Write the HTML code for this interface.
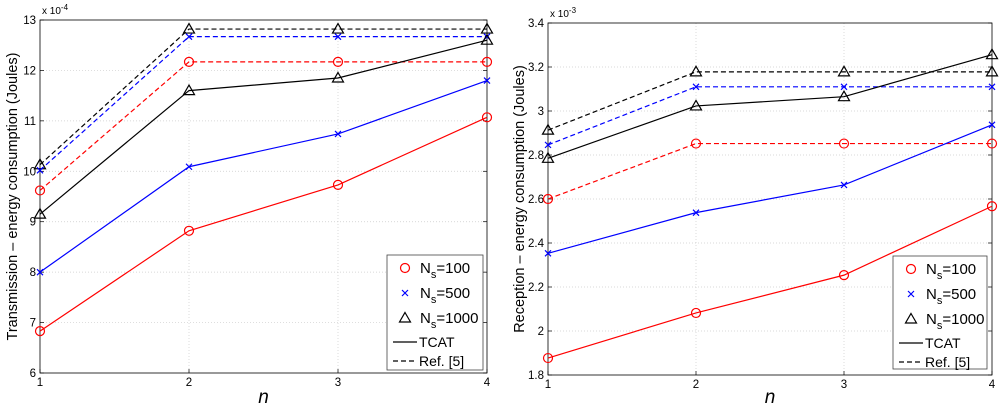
<!DOCTYPE html>
<html><head><meta charset="utf-8"><style>
body{margin:0;background:#fff}
svg{font-family:"Liberation Sans",sans-serif}
</style></head><body>
<svg id="s" width="1000" height="410" xmlns="http://www.w3.org/2000/svg"></svg>
<script>
const xCats=[1,2,3,4];
const leftTicks=[6,7,8,9,10,11,12,13];
const rightTicks=[1.8,2,2.2,2.4,2.6,2.8,3,3.2,3.4];
const rightTickLabels=["1.8","2","2.2","2.4","2.6","2.8","3","3.2","3.4"];
const leftRef100=[9.62,12.17,12.17,12.17];
const leftRef500=[10.02,12.67,12.67,12.67];
const leftRef1000=[10.13,12.82,12.82,12.82];
const leftTcat100=[6.83,8.82,9.73,11.07];
const leftTcat500=[8.0,10.09,10.74,11.8];
const leftTcat1000=[9.15,11.6,11.85,12.6];
const rightRef100=[2.6,2.852,2.852,2.852];
const rightRef500=[2.846,3.11,3.11,3.11];
const rightRef1000=[2.913,3.178,3.178,3.178];
const rightTcat100=[1.877,2.082,2.254,2.567];
const rightTcat500=[2.353,2.538,2.664,2.937];
const rightTcat1000=[2.785,3.023,3.065,3.256];

const NS="http://www.w3.org/2000/svg";
const svg=document.getElementById('s');
function mk(tag,attrs,parent){const e=document.createElementNS(NS,tag);for(const k in attrs)e.setAttribute(k,attrs[k]);(parent||svg).appendChild(e);return e;}

function marker(g,type,x,y,color){
  if(type==='o'){const e=mk('circle',{cx:x,cy:y,r:4.5,fill:'none',stroke:color,'stroke-width':1.2},g);}
  else if(type==='x'){const e=mk('path',{d:`M${x-3},${y-3}L${x+3},${y+3}M${x-3},${y+3}L${x+3},${y-3}`,stroke:color,'stroke-width':1.2},g);}
  else {const e=mk('path',{d:`M${x},${y-5.5}L${x+5.5},${y+4}L${x-5.5},${y+4}Z`,fill:'none',stroke:color,'stroke-width':1.2},g);}
}

function chart(o){
  const g=mk('g',{});
  
  
  const xs=v=>o.x0+(v-1)/(3)*(o.x1-o.x0);
  const ys=v=>o.y1-(v-o.ymin)/(o.ymax-o.ymin)*(o.y1-o.y0);
  o.ticks.forEach((t,i)=>{
    const y=ys(t);
    if(i>0&&i<o.ticks.length-1){const gl=mk('line',{x1:o.x0,x2:o.x1,y1:y,y2:y,stroke:'#ccc','stroke-width':0.7,'stroke-dasharray':'1,2'},g);}
    mk('line',{x1:o.x0,x2:o.x0+4,y1:y,y2:y,stroke:'#000','stroke-width':0.7},g);
    mk('line',{x1:o.x1,x2:o.x1-4,y1:y,y2:y,stroke:'#000','stroke-width':0.7},g);
    const tl=mk('text',{x:o.x0-4,y:y+4,'text-anchor':'end','font-size':11.5},g);tl.textContent=o.tickLabels[i];
    
  });
  xCats.forEach(c=>{
    const x=xs(c);
    if(c>1&&c<4){const gl=mk('line',{x1:x,x2:x,y1:o.y0,y2:o.y1,stroke:'#ccc','stroke-width':0.7,'stroke-dasharray':'1,2'},g);}
    mk('line',{x1:x,x2:x,y1:o.y1,y2:o.y1-4,stroke:'#000','stroke-width':0.7},g);
    const tl=mk('text',{x:x,y:o.y1+13,'text-anchor':'middle','font-size':11.5},g);tl.textContent=c;
    
  });
  const box=mk('rect',{x:o.x0,y:o.y0,width:o.x1-o.x0,height:o.y1-o.y0,fill:'none',stroke:'#000','stroke-width':0.8},g);
  
  const ex=mk('text',{x:o.x0+2,y:o.y0-6,'font-size':10},g);ex.innerHTML='x 10<tspan dy="-4" font-size="8">'+o.exp+'</tspan>';
  
  const series=[[o.ref1000,'#000','^',true],[o.ref500,'#00f','x',true],[o.ref100,'#f00','o',true],[o.t1000,'#000','^',false],[o.t500,'#00f','x',false],[o.t100,'#f00','o',false]];
  series.forEach(([d,c,m,dash])=>{
    const p=mk('polyline',{points:d.map((v,i)=>xs(xCats[i])+','+ys(v)).join(' '),fill:'none',stroke:c,'stroke-width':1.2,'stroke-dasharray':dash?'5,3':'none'},g);
    
    d.forEach((v,i)=>marker(g,m,xs(xCats[i]),ys(v),c));
  });
  const xl=mk('text',{x:(o.x0+o.x1)/2,y:403,'text-anchor':'middle','font-size':19,'font-style':'italic'},g);xl.textContent='n';
  
  const yl=mk('text',{transform:`translate(${o.ylx},${(o.y0+o.y1)/2}) rotate(-90)`,'text-anchor':'middle','font-size':14.5},g);yl.textContent=o.ylabel;
  
  const lg=mk('g',{},g);
  const L=o.leg;
  mk('rect',{x:L.x,y:L.y,width:L.w,height:L.h,fill:'#fff',stroke:'#444','stroke-width':0.8},lg);
  const items=[['o','#f00','100'],['x','#00f','500'],['^','#000','1000']];
  items.forEach((it,i)=>{
    const yy=L.y+12+i*25;
    marker(lg,it[0],L.x+18,yy+1,it[1]);
    const t=mk('text',{x:L.x+33,y:yy+6,'font-size':15},lg);t.innerHTML='N<tspan dy="5" font-size="11">s</tspan><tspan dy="-5">='+it[2]+'</tspan>';
    
  });
  [['TCAT','none'],['Ref. [5]','5,3']].forEach((it,i)=>{
    const yy=L.y+87+i*19;
    mk('line',{x1:L.x+6,x2:L.x+30,y1:yy,y2:yy,stroke:'#000','stroke-width':1.2,'stroke-dasharray':it[1]},lg);
    const t=mk('text',{x:L.x+32,y:yy+5,'font-size':14},lg);t.textContent=it[0];
    
  });
}
chart({name:'transmission-chart',x0:40,x1:487,y0:20,y1:373,ymin:6,ymax:13,ticks:leftTicks,tickLabels:leftTicks.map(String),exp:'-4',
 ref100:leftRef100,ref500:leftRef500,ref1000:leftRef1000,t100:leftTcat100,t500:leftTcat500,t1000:leftTcat1000,
 ylx:17,ylabel:'Transmission – energy consumption (Joules)',leg:{x:387,y:255,w:96,h:115}});
chart({name:'reception-chart',x0:548,x1:992,y0:23,y1:375,ymin:1.8,ymax:3.4,ticks:rightTicks,tickLabels:rightTickLabels,exp:'-3',
 ref100:rightRef100,ref500:rightRef500,ref1000:rightRef1000,t100:rightTcat100,t500:rightTcat500,t1000:rightTcat1000,
 ylx:524,ylabel:'Reception – energy consumption (Joules)',leg:{x:893,y:256,w:94,h:113}});
</script>
</body></html>
